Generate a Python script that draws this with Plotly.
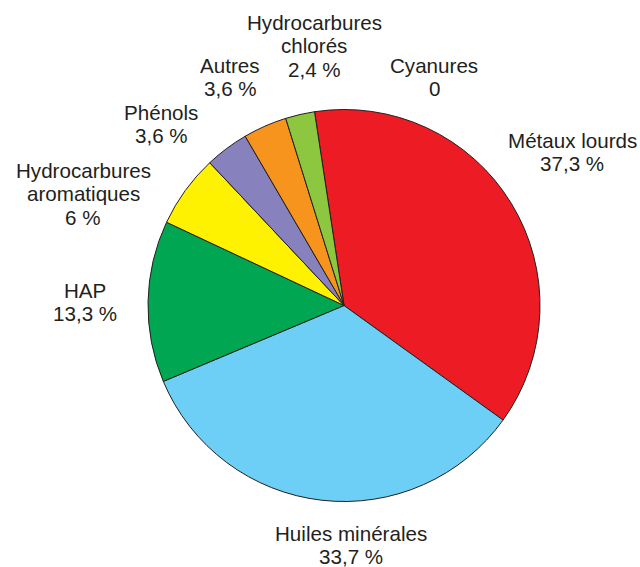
import plotly.graph_objects as go

# Data (clockwise from the start of "Métaux lourds")
categories = ["Cyanures", "Métaux lourds", "Huiles minérales", "HAP",
              "Hydrocarbures aromatiques", "Phénols", "Autres", "Hydrocarbures chlorés"]
values = [0, 37.3, 33.7, 13.3, 6, 3.6, 3.6, 2.4]
value_labels = ["0", "37,3 %", "33,7 %", "13,3 %", "6 %", "3,6 %", "3,6 %", "2,4 %"]
colors = ["#FFFFFF", "#ED1C24", "#6DCFF6", "#00A651", "#FFF200", "#8781BD", "#F7941D", "#8DC63F"]

W, H = 640, 567
cx, cy, r = 344, 305.5, 196

total = sum(values)
rotation = -360 * values[-1] / total

fig = go.Figure(go.Pie(
    labels=categories,
    values=values,
    sort=False,
    direction="clockwise",
    rotation=rotation,
    marker=dict(colors=colors, line=dict(color="#231f20", width=1)),
    textinfo="none",
    hoverinfo="label+value",
    domain=dict(x=[(cx - r) / W, (cx + r) / W], y=[(H - cy - r) / H, (H - cy + r) / H]),
    showlegend=False,
))

label_lines = {
    "Cyanures": ["Cyanures"],
    "Métaux lourds": ["Métaux lourds"],
    "Huiles minérales": ["Huiles minérales"],
    "HAP": ["HAP"],
    "Hydrocarbures aromatiques": ["Hydrocarbures", "aromatiques"],
    "Phénols": ["Phénols"],
    "Autres": ["Autres"],
    "Hydrocarbures chlorés": ["Hydrocarbures", "chlorés"],
}
label_pos = {
    "Cyanures": (434, 73),
    "Métaux lourds": (572, 148),
    "Huiles minérales": (351, 541),
    "HAP": (85, 298),
    "Hydrocarbures aromatiques": (83, 178),
    "Phénols": (161, 120),
    "Autres": (230, 73),
    "Hydrocarbures chlorés": (314, 30),
}
line_gap = 23.3
fs = 20.6

annotations = []
for cat, vl in zip(categories, value_labels):
    lines = label_lines[cat] + [vl]
    x0, b0 = label_pos[cat]
    for i, t in enumerate(lines):
        base = b0 + i * line_gap
        ymid = base - 7.5
        annotations.append(dict(
            x=x0 / W, y=1 - ymid / H, xref="paper", yref="paper",
            text=t, showarrow=False, xanchor="center", yanchor="middle",
            borderpad=0,
            font=dict(family="Liberation Sans, Arial, sans-serif", size=fs, color="#231f20"),
        ))

fig.update_layout(
    width=W, height=H,
    margin=dict(l=0, r=0, t=0, b=0),
    paper_bgcolor="white", plot_bgcolor="white",
    annotations=annotations,
)

fig.write_html(
    "out.html",
    config={"displayModeBar": False},
    post_script="document.body.style.margin='0';document.body.style.overflow='hidden';",
)
